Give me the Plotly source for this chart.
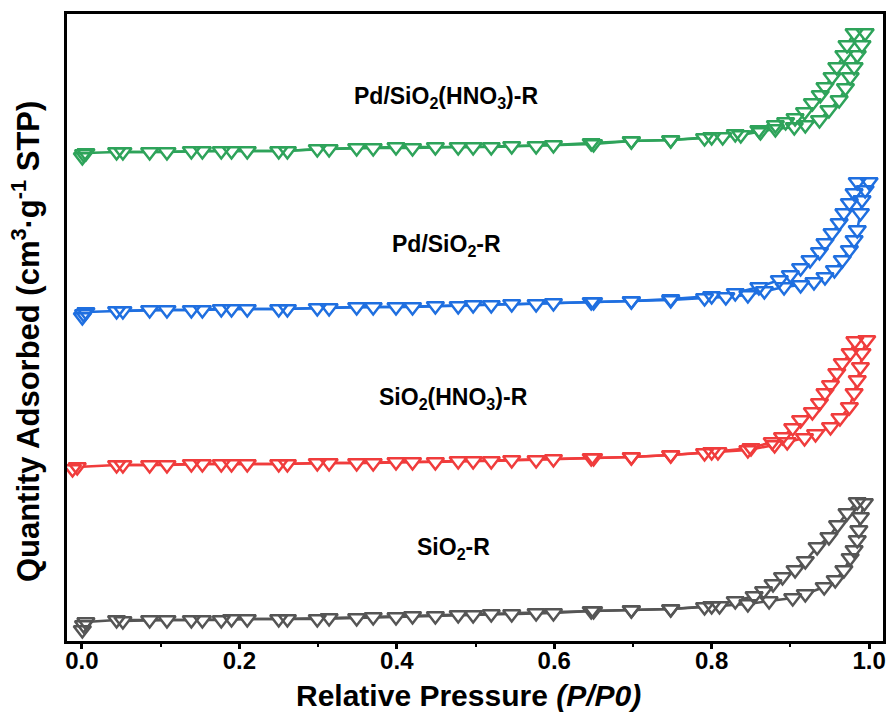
import plotly.graph_objects as go

# N2 physisorption isotherms (stacked, arbitrary vertical offsets)
# Adsorption branch: relative pressure and stacked quantity
sio2_ads_p = [0.0005, 0.002, 0.005, 0.044, 0.086, 0.139, 0.177, 0.210, 0.261, 0.299,
              0.349, 0.399, 0.449, 0.497, 0.546, 0.599, 0.647, 0.698, 0.748, 0.791,
              0.810, 0.846, 0.873, 0.903, 0.919, 0.943, 0.957, 0.968, 0.976, 0.981,
              0.985, 0.987, 0.989, 0.994]
sio2_ads_q = [11, 16, 19, 21, 21, 21, 21, 22, 22, 22,
              23, 24, 25, 26, 27, 28, 30, 31, 32, 34,
              35, 37, 40, 43, 47, 54, 61, 71, 83, 91,
              101, 111, 124, 138]
sio2_des_p = [0.985, 0.972, 0.960, 0.949, 0.934, 0.919, 0.906, 0.890, 0.878, 0.866,
              0.854, 0.830, 0.800, 0.748, 0.698, 0.650, 0.577, 0.520, 0.478, 0.420,
              0.370, 0.314, 0.250, 0.190, 0.153, 0.108, 0.052]
sio2_des_q = [139, 128, 116, 104, 94, 80, 71, 64, 57, 50,
              45, 40, 35, 32, 31, 30, 28, 27, 26, 25,
              24, 23, 22, 22, 21, 21, 20]

sio2h_ads_p = [-0.012, -0.006, 0.044, 0.086, 0.139, 0.177, 0.210, 0.261, 0.299, 0.349,
               0.399, 0.449, 0.497, 0.546, 0.599, 0.647, 0.698, 0.748, 0.791,
               0.808, 0.846, 0.880, 0.896, 0.918, 0.932, 0.951, 0.963, 0.975, 0.981,
               0.985, 0.989, 0.991, 0.997]
sio2h_ads_q = [172, 174, 176, 176, 177, 177, 177, 177, 178, 178,
               179, 179, 180, 181, 182, 183, 184, 186, 188,
               189, 191, 196, 199, 203, 207, 214, 223, 234, 248,
               261, 274, 288, 301]
sio2h_des_p = [0.982, 0.976, 0.966, 0.959, 0.951, 0.944, 0.937, 0.928, 0.913, 0.903,
               0.890, 0.877, 0.850, 0.800, 0.748, 0.698, 0.650, 0.577, 0.520, 0.478,
               0.420, 0.370, 0.314, 0.250, 0.190, 0.153, 0.108, 0.052]
sio2h_des_q = [300, 288, 278, 268, 256, 248, 238, 229, 221, 213,
               204, 199, 193, 189, 186, 184, 183, 181, 180, 180,
               179, 178, 178, 177, 177, 177, 176, 176]

pd_ads_p = [0.0005, 0.002, 0.005, 0.044, 0.086, 0.139, 0.177, 0.210, 0.261, 0.299,
            0.349, 0.399, 0.449, 0.497, 0.546, 0.599, 0.647, 0.698, 0.748, 0.791,
            0.818, 0.846, 0.867, 0.892, 0.913, 0.930, 0.944, 0.956, 0.966, 0.975,
            0.981, 0.985, 0.989, 0.991, 0.995, 1.000]
pd_ads_q = [324, 327, 329, 330, 331, 331, 332, 332, 332, 333,
            334, 334, 335, 336, 337, 338, 339, 340, 341, 343,
            344, 346, 350, 354, 356, 359, 364, 371, 381, 391,
            401, 411, 428, 441, 451, 459]
pd_des_p = [0.985, 0.981, 0.975, 0.968, 0.962, 0.953, 0.944, 0.937, 0.925, 0.913,
            0.900, 0.886, 0.860, 0.830, 0.800, 0.748, 0.698, 0.650, 0.577, 0.520,
            0.478, 0.420, 0.370, 0.314, 0.250, 0.190, 0.153, 0.108, 0.052]
pd_des_q = [459, 448, 438, 428, 418, 408, 398, 389, 381, 373,
            366, 361, 354, 348, 345, 342, 340, 339, 337, 336,
            335, 334, 334, 333, 332, 332, 331, 331, 330]

pdh_ads_p = [0.0005, 0.002, 0.005, 0.044, 0.086, 0.139, 0.177, 0.210, 0.261, 0.299,
             0.349, 0.399, 0.449, 0.497, 0.546, 0.599, 0.647, 0.698, 0.748, 0.791,
             0.814, 0.837, 0.862, 0.881, 0.905, 0.919, 0.937, 0.949, 0.962, 0.970,
             0.976, 0.981, 0.985, 0.991, 0.995]
pdh_ads_q = [484, 487, 488, 489, 489, 490, 490, 490, 490, 492,
             493, 494, 494, 494, 495, 496, 498, 500, 501, 503,
             504, 506, 509, 512, 514, 516, 521, 531, 541, 553,
             564, 574, 586, 596, 608]
pdh_des_p = [0.981, 0.972, 0.968, 0.959, 0.953, 0.944, 0.938, 0.928, 0.918, 0.906,
             0.894, 0.881, 0.860, 0.830, 0.800, 0.748, 0.698, 0.650, 0.577, 0.520,
             0.478, 0.420, 0.370, 0.314, 0.250, 0.190, 0.153, 0.108, 0.052]
pdh_des_q = [608, 596, 586, 574, 564, 554, 546, 538, 529, 523,
             519, 516, 511, 507, 504, 501, 500, 497, 495, 494,
             494, 493, 493, 492, 490, 490, 490, 489, 489]

# x-axis ticks
tick_vals = [0.0, 0.2, 0.4, 0.6, 0.8, 1.0]
tick_text = ["0.0", "0.2", "0.4", "0.6", "0.8", "1.0"]
minor_vals = [0.1, 0.3, 0.5, 0.7, 0.9]

series = [
    ("SiO<sub>2</sub>-R", "#555555", sio2_ads_p, sio2_ads_q, sio2_des_p, sio2_des_q, 0.472, 93),
    ("SiO<sub>2</sub>(HNO<sub>3</sub>)-R", "#f03c3c", sio2h_ads_p, sio2h_ads_q, sio2h_des_p, sio2h_des_q, 0.472, 243),
    ("Pd/SiO<sub>2</sub>-R", "#1f6fe0", pd_ads_p, pd_ads_q, pd_des_p, pd_des_q, 0.463, 396),
    ("Pd/SiO<sub>2</sub>(HNO<sub>3</sub>)-R", "#2ea35a", pdh_ads_p, pdh_ads_q, pdh_des_p, pdh_des_q, 0.463, 544),
]

FONT = "Liberation Sans, Arial, sans-serif"
MSIZE = 15

fig = go.Figure()
annotations = []
for name, color, ap, aq, dp, dq, lx, ly in series:
    xs = ap + [None] + dp
    ys = aq + [None] + dq
    # connecting lines
    fig.add_trace(go.Scatter(x=xs, y=ys, mode="lines", line=dict(color=color, width=2.5),
                             hoverinfo="skip", showlegend=False))
    # white interiors so the line stops at each symbol
    fig.add_trace(go.Scatter(x=xs, y=ys, mode="markers",
                             marker=dict(symbol="triangle-down", size=MSIZE - 2, color="white",
                                         line=dict(width=0)),
                             hoverinfo="skip", showlegend=False))
    # hollow symbols
    fig.add_trace(go.Scatter(x=xs, y=ys, mode="markers", name=name,
                             marker=dict(symbol="triangle-down-open", size=MSIZE, color=color,
                                         line=dict(color=color, width=2.5)),
                             showlegend=False))
    annotations.append(dict(x=lx, y=ly, xref="x", yref="y", text="<b>" + name + "</b>",
                            showarrow=False, font=dict(family=FONT, size=23, color="black"),
                            xanchor="center", yanchor="middle"))

annotations.append(dict(x=0.492, y=-0.087, xref="paper", yref="paper",
                        text="<b>Relative Pressure <i>(P/P0)</i></b>", showarrow=False,
                        font=dict(family=FONT, size=30, color="black"),
                        xanchor="center", yanchor="middle"))
annotations.append(dict(x=-0.05, y=0.477, xref="paper", yref="paper", textangle=-90,
                        text="<b>Quantity Adsorbed (cm<sup>3</sup>·g<sup>-1</sup> STP)</b>",
                        showarrow=False, font=dict(family=FONT, size=31, color="black"),
                        xanchor="center", yanchor="middle"))

fig.update_layout(
    width=895, height=715,
    margin=dict(l=67, r=9, t=14, b=74),
    paper_bgcolor="white", plot_bgcolor="white",
    annotations=annotations,
    xaxis=dict(range=[-0.019, 1.0177], tickvals=tick_vals,
               ticktext=["<b>" + t + "</b>" for t in tick_text],
               ticks="outside", ticklen=5, tickwidth=3, tickcolor="black",
               ticklabelstandoff=-9,
               minor=dict(tickvals=minor_vals, ticks="outside", ticklen=3,
                          tickwidth=2, tickcolor="black"),
               tickfont=dict(family=FONT, size=24, color="black"),
               showline=True, linewidth=3, linecolor="black", mirror=True,
               showgrid=False, zeroline=False),
    yaxis=dict(range=[0, 627], showticklabels=False, ticks="",
               showline=True, linewidth=3, linecolor="black", mirror=True,
               showgrid=False, zeroline=False),
)

fig.write_html("out.html")
